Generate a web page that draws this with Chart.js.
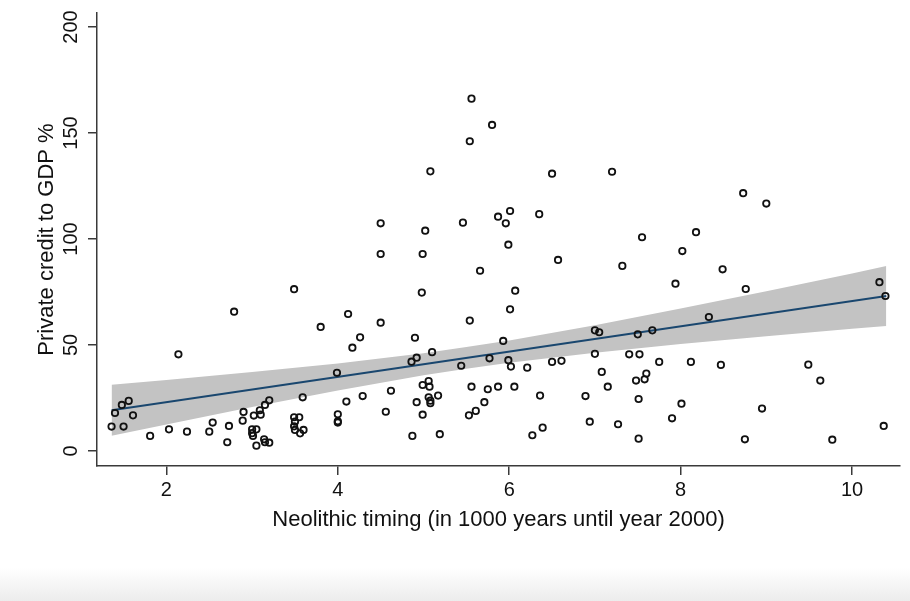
<!DOCTYPE html>
<html>
<head>
<meta charset="utf-8">
<script src="https://cdn.jsdelivr.net/npm/chart.js@4.4.1/dist/chart.umd.min.js"></script>
<style>
  html, body { margin: 0; padding: 0; }
  body {
    width: 910px; height: 601px; overflow: hidden;
    background: linear-gradient(to bottom, #ffffff 0px, #ffffff 568px, #ececec 601px);
  }
  canvas { display: block; }
</style>
</head>
<body>
<canvas id="chart" width="910" height="601"></canvas>
<script>
// Neolithic timing (thousand years before 2000) for each country
const NEOLITHIC = [
  1.36, 1.40, 1.48, 1.56, 1.50, 1.61, 1.81, 2.03, 2.14, 2.24,
  2.50, 2.54, 2.71, 2.73, 2.79, 2.89, 2.90, 3.00, 3.05, 3.00,
  3.01, 3.02, 3.05, 3.09, 3.10, 3.15, 3.20, 3.14, 3.15, 3.20,
  3.49, 3.49, 3.55, 3.50, 3.49, 3.50, 3.56, 3.60, 3.59,
  3.80, 3.99, 4.00, 4.00, 4.00, 4.10, 4.12, 4.17, 4.26, 4.29,
  4.50, 4.50, 4.50, 4.56, 4.62, 4.86, 4.87, 4.90, 4.92, 4.92,
  4.98, 4.99, 4.99, 4.99, 5.02, 5.06, 5.07, 5.06, 5.08, 5.08,
  5.08, 5.10, 5.17, 5.19, 5.44, 5.46, 5.53, 5.54, 5.54, 5.56,
  5.56, 5.61, 5.66, 5.71, 5.75, 5.77, 5.80, 5.87, 5.87, 5.93,
  5.96, 5.99, 5.99, 6.01, 6.01, 6.02, 6.06, 6.07, 6.21, 6.27,
  6.35, 6.36, 6.39, 6.50, 6.50, 6.57, 6.61,
  6.89, 6.94, 7.00, 7.05, 7.00, 7.08, 7.15, 7.20, 7.27, 7.32,
  7.40, 7.48, 7.50, 7.51, 7.51, 7.52, 7.55, 7.58, 7.60, 7.67,
  7.75, 7.90, 7.94, 8.01, 8.02, 8.12, 8.18, 8.33, 8.47, 8.49,
  8.73, 8.75, 8.76, 8.95, 9.00, 9.49, 9.63, 9.77, 10.32, 10.37,
  10.39
];

// Private credit to GDP (%) for the same countries
const CREDIT = [
  11.5, 17.9, 21.7, 23.6, 11.5, 16.8, 7.1, 10.2, 45.6, 9.1,
  9.1, 13.4, 4.1, 11.8, 65.7, 14.3, 18.4, 10.2, 10.2, 8.4,
  7.1, 16.7, 2.5, 19.2, 17.1, 21.7, 23.9, 5.5, 4.1, 3.9,
  76.3, 15.9, 15.9, 13.8, 11.6, 9.9, 8.3, 9.9, 25.3,
  58.5, 36.9, 17.3, 14.0, 13.4, 23.3, 64.6, 48.7, 53.6, 25.9,
  107.4, 92.9, 60.5, 18.5, 28.4, 42.1, 7.1, 53.4, 44.0, 23.0,
  74.7, 92.9, 31.1, 17.1, 103.9, 33.0, 30.3, 25.3, 23.7, 22.5,
  131.9, 46.6, 26.1, 7.9, 40.2, 107.7, 16.8, 146.1, 61.5, 166.2,
  30.3, 18.9, 85.0, 23.0, 29.1, 43.7, 153.8, 110.5, 30.3, 51.9,
  107.4, 97.3, 42.8, 113.2, 66.8, 39.8, 30.3, 75.6, 39.3, 7.4,
  111.7, 26.1, 11.0, 130.8, 42.0, 90.1, 42.5,
  25.9, 13.8, 56.9, 56.0, 45.8, 37.3, 30.3, 131.7, 12.6, 87.3,
  45.6, 33.2, 55.0, 24.5, 5.8, 45.6, 100.8, 33.8, 36.5, 56.9,
  42.0, 15.4, 78.9, 22.3, 94.3, 42.0, 103.2, 63.2, 40.6, 85.7,
  121.6, 5.5, 76.4, 20.0, 116.7, 40.7, 33.2, 5.3, 79.6, 11.8,
  73.1
];

// Fitted line end points
const FIT_X = [1.36, 10.40];
const FIT_Y = [19.2, 73.1];

// 95% confidence band of the fit
const BAND_X     = [1.36, 2.0,  3.0,  4.0,  5.0,  5.5,  6.0,  7.0,  8.0,  9.0,  10.0, 10.40];
const BAND_UPPER = [31.2, 33.5, 37.3, 41.3, 46.1, 49.0, 52.1, 59.3, 67.2, 75.3, 83.7, 87.2];
const BAND_LOWER = [7.2,  12.5, 20.7, 28.5, 35.7, 38.8, 41.6, 46.3, 50.4, 54.1, 57.7, 59.0];

const X_TICKS = [2, 4, 6, 8, 10];
const Y_TICKS = [0, 50, 100, 150, 200];

const FONT = "'Liberation Sans', Helvetica, Arial, sans-serif";
const AXIS_COLOR = '#3a3a3a';

const zip = (xs, ys) => xs.map((x, i) => ({ x, y: ys[i] }));

// Rotated value labels on the vertical axis
const yLabels = {
  id: 'yLabels',
  afterDraw(chart) {
    const s = chart.scales.y;
    const ctx = chart.ctx;
    ctx.save();
    ctx.fillStyle = '#111';
    ctx.font = '20px ' + FONT;
    ctx.textAlign = 'center';
    ctx.textBaseline = 'middle';
    const x = s.right - 9 - 16.5;
    Y_TICKS.forEach(v => {
      ctx.save();
      ctx.translate(x, s.getPixelForValue(v));
      ctx.rotate(-Math.PI / 2);
      ctx.fillText(String(v), 0, 0);
      ctx.restore();
    });
    ctx.restore();
  }
};

new Chart(document.getElementById('chart'), {
  type: 'scatter',
  data: {
    datasets: [
      {
        label: 'Private credit to GDP %',
        data: zip(NEOLITHIC, CREDIT),
        pointStyle: 'circle',
        pointRadius: 3.2,
        pointBorderWidth: 1.8,
        borderColor: '#111',
        backgroundColor: 'rgba(0,0,0,0)',
        showLine: false
      },
      {
        label: 'Fitted values',
        data: zip(FIT_X, FIT_Y),
        showLine: true,
        borderColor: '#1a476f',
        borderWidth: 1.8,
        pointRadius: 0,
        fill: false
      },
      {
        label: '95% CI upper',
        data: zip(BAND_X, BAND_UPPER),
        showLine: true,
        borderWidth: 0,
        borderColor: 'rgba(0,0,0,0)',
        backgroundColor: '#c3c3c3',
        pointRadius: 0,
        fill: '+1'
      },
      {
        label: '95% CI lower',
        data: zip(BAND_X, BAND_LOWER),
        showLine: true,
        borderWidth: 0,
        borderColor: 'rgba(0,0,0,0)',
        pointRadius: 0,
        fill: false
      }
    ]
  },
  options: {
    responsive: false,
    animation: false,
    devicePixelRatio: 1,
    events: [],
    layout: {
      autoPadding: false,
      padding: { left: 30, right: 10, top: 13, bottom: 64 }
    },
    plugins: {
      legend: { display: false },
      tooltip: { enabled: false }
    },
    scales: {
      x: {
        type: 'linear',
        min: 1.19,
        max: 10.56,
        afterBuildTicks: s => { s.ticks = X_TICKS.map(v => ({ value: v })); },
        afterFit: s => { s.height = 71; },
        border: { display: true, color: AXIS_COLOR, width: 1.5 },
        grid: { display: true, drawOnChartArea: false, drawTicks: true, tickLength: 9, color: AXIS_COLOR, lineWidth: 1.5 },
        ticks: { color: '#111', font: { family: FONT, size: 20 }, padding: 3, maxRotation: 0, autoSkip: false },
        title: { display: true, text: 'Neolithic timing (in 1000 years until year 2000)', color: '#111', font: { family: FONT, size: 22 }, padding: { top: 4, bottom: 4 } }
      },
      y: {
        type: 'linear',
        min: -7.1,
        max: 206.6,
        afterBuildTicks: s => { s.ticks = Y_TICKS.map(v => ({ value: v })); },
        afterFit: s => { s.width = 67; },
        border: { display: true, color: AXIS_COLOR, width: 1.5 },
        grid: { display: true, drawOnChartArea: false, drawTicks: true, tickLength: 9, color: AXIS_COLOR, lineWidth: 1.5 },
        ticks: { display: false },
        title: { display: true, text: 'Private credit to GDP %', color: '#111', font: { family: FONT, size: 22 }, padding: { top: 4, bottom: 4 } }
      }
    }
  },
  plugins: [yLabels]
});
</script>
</body>
</html>
